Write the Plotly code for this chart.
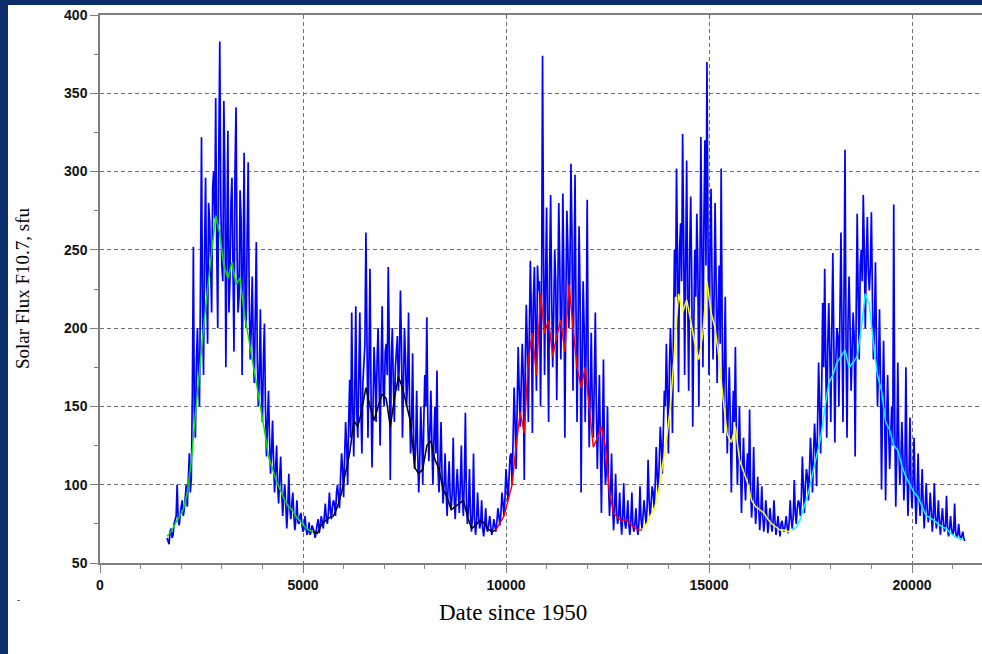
import plotly.graph_objects as go

# ---------------- data ----------------
# daily solar flux samples: main samples every 50 days from day 1650,
# and in-between samples every 50 days from day 1675
flux_start = 1650
flux_step = 50
flux_values = [
    66, 62, 72, 68, 78, 100, 74, 86, 80, 95,
    86, 120, 105, 252, 130, 200, 150, 322, 170, 296,
    190, 269, 210, 300, 347, 200, 383, 240, 345, 175,
    326, 230, 296, 185, 341, 210, 288, 170, 312, 200,
    306, 180, 233, 165, 255, 150, 212, 140, 203, 118,
    160, 107, 141, 95, 125, 88, 118, 80, 100, 72,
    107, 78, 95, 71, 90, 75, 82, 70, 80, 68,
    76, 70, 72, 66, 75, 69, 80, 72, 88, 75,
    95, 78, 90, 80, 100, 85, 120, 92, 140, 100,
    167, 210, 118, 214, 130, 210, 120, 180, 261, 130,
    238, 111, 188, 140, 200, 125, 214, 150, 190, 239,
    103, 200, 140, 190, 160, 224, 130, 200, 150, 210,
    120, 184, 110, 160, 95, 150, 100, 170, 207, 115,
    160, 100, 150, 173, 95, 140, 88, 120, 80, 115,
    85, 130, 78, 110, 82, 125, 80, 146, 75, 110,
    70, 120, 68, 95, 72, 90, 67, 85, 70, 80,
    68, 78, 70, 85, 74, 95, 80, 110, 90, 118,
    100, 162, 110, 188, 137, 190, 103, 215, 140, 243,
    133, 239, 160, 224, 150, 374, 170, 277, 140, 285,
    175, 250, 154, 280, 180, 286, 130, 275, 200, 305,
    160, 298, 140, 265, 95, 230, 140, 282, 124, 197,
    130, 210, 110, 170, 82, 180, 100, 150, 80, 120,
    71, 107, 75, 95, 68, 101, 72, 90, 68, 95,
    70, 85, 68, 99, 72, 90, 75, 116, 80, 99,
    85, 124, 95, 137, 107, 160, 190, 120, 200, 133,
    250, 302, 159, 267, 324, 170, 307, 160, 284, 137,
    250, 273, 150, 322, 175, 320, 370, 170, 289, 180,
    280, 165, 240, 302, 133, 220, 120, 175, 95, 160,
    188, 100, 150, 82, 130, 90, 120, 148, 79, 124,
    75, 105, 71, 99, 70, 90, 69, 85, 70, 90,
    68, 80, 67, 77, 70, 80, 69, 90, 72, 103,
    75, 90, 80, 118, 82, 110, 90, 130, 95, 139,
    99, 178, 120, 216, 238, 130, 216, 140, 248, 127,
    200, 150, 261, 140, 314, 130, 233, 160, 210, 118,
    273, 180, 250, 285, 200, 271, 224, 274, 180, 242,
    150, 212, 97, 192, 90, 170, 110, 150, 279, 86,
    178, 100, 140, 90, 175, 80, 143, 85, 130, 75,
    120, 80, 110, 72, 101, 76, 95, 70, 101, 72,
    90, 68, 85, 70, 93, 67, 80, 68, 88, 66,
    75, 65, 70, 64,
]
flux_mid_start = 1675
flux_mid_values = [
    64, 70, 66, 75, 80, 78, 82, 90, 84, 100,
    110, 95, 160, 140, 180, 170, 230, 210, 250, 230,
    280, 240, 290, 270, 250, 310, 280, 230, 300, 260,
    210, 280, 240, 300, 250, 220, 270, 240, 210, 260,
    220, 200, 190, 210, 180, 170, 160, 180, 150, 140,
    130, 120, 115, 110, 100, 105, 95, 92, 88, 85,
    85, 88, 80, 78, 76, 80, 74, 72, 72, 70,
    68, 74, 70, 72, 78, 74, 76, 80, 78, 82,
    84, 86, 88, 95, 92, 105, 110, 118, 125, 140,
    130, 150, 160, 145, 170, 150, 165, 190, 170, 180,
    160, 150, 170, 180, 165, 175, 160, 185, 170, 190,
    180, 165, 175, 195, 180, 190, 175, 180, 165, 150,
    140, 130, 125, 120, 115, 130, 140, 150, 140, 135,
    125, 130, 120, 110, 115, 105, 100, 95, 100, 92,
    95, 90, 98, 95, 100, 92, 105, 90, 85, 82,
    80, 78, 76, 80, 75, 72, 74, 72, 75, 73,
    72, 74, 76, 80, 82, 88, 92, 100, 105, 120,
    130, 140, 150, 160, 165, 170, 180, 190, 200, 210,
    220, 200, 240, 230, 210, 250, 230, 200, 240, 220,
    210, 230, 220, 240, 210, 235, 220, 250, 240, 260,
    230, 210, 200, 220, 180, 200, 190, 170, 160, 150,
    165, 150, 140, 125, 130, 120, 110, 100, 95, 88,
    85, 82, 80, 78, 80, 76, 78, 75, 77, 74,
    75, 73, 76, 78, 80, 82, 85, 90, 88, 95,
    100, 105, 115, 125, 135, 150, 160, 175, 180, 200,
    220, 240, 250, 230, 260, 240, 220, 250, 230, 200,
    220, 240, 230, 250, 270, 240, 260, 250, 230, 220,
    230, 210, 190, 200, 170, 160, 150, 140, 135, 140,
    130, 125, 115, 110, 105, 110, 100, 95, 92, 90,
    88, 85, 82, 80, 78, 80, 76, 78, 75, 77,
    74, 73, 75, 72, 74, 73, 76, 78, 80, 82,
    85, 88, 92, 98, 100, 105, 110, 115, 120, 125,
    140, 150, 160, 175, 180, 190, 185, 200, 190, 180,
    195, 210, 200, 220, 190, 205, 200, 185, 195, 210,
    220, 240, 230, 250, 245, 235, 240, 220, 200, 190,
    175, 165, 155, 150, 140, 135, 130, 125, 140, 120,
    125, 115, 118, 110, 112, 105, 100, 102, 96, 95,
    92, 90, 88, 86, 84, 82, 83, 80, 80, 78,
    76, 78, 75, 74, 73, 72, 72, 70, 70, 68,
    68, 67, 66,
]

# smoothed flux per solar cycle (every 100 days)
smooth_step = 100
cycle19_start = 1650
cycle19 = [67, 70, 75, 80, 84, 95, 115, 145, 175, 200, 225, 250, 272, 260, 240,
           232, 242, 228, 232, 210, 195, 182, 165, 150, 135, 118, 110, 102, 96,
           90, 86, 83, 79, 76, 73, 71, 70]
cycle20_start = 5250
cycle20 = [70, 69, 74, 77, 79, 80, 86, 95, 108, 120, 141, 137, 148, 162, 150,
           141, 150, 158, 155, 137, 155, 169, 162, 150, 140, 111, 107, 110, 125,
           128, 116, 110, 97, 92, 84, 86, 88, 90, 80, 72, 74, 77, 76, 72, 70, 71]
cycle21_start = 9750
cycle21 = [71, 76, 80, 90, 100, 125, 146, 133, 180, 197, 170, 222, 197, 205, 182,
           195, 205, 185, 228, 201, 175, 162, 175, 150, 124, 130, 137, 124, 95,
           82, 79, 77, 78, 75, 73, 71, 71]
cycle22_start = 13350
cycle22 = [71, 74, 80, 84, 95, 112, 128, 150, 186, 222, 210, 218, 205, 190, 180,
           197, 230, 210, 200, 180, 154, 132, 127, 137, 116, 108, 101, 90, 86,
           84, 82, 78, 75, 73, 71, 71, 70, 71]
cycle23_start = 17050
cycle23 = [71, 73, 78, 86, 95, 107, 118, 130, 148, 165, 170, 178, 182, 186, 175,
           178, 182, 200, 222, 215, 190, 170, 160, 140, 135, 125, 122, 112, 105,
           100, 95, 92, 86, 80, 79, 77, 75, 73, 72, 69, 67, 66, 65]

cycles = [
    (cycle19_start, cycle19, "#00e600"),
    (cycle20_start, cycle20, "#000000"),
    (cycle21_start, cycle21, "#ff0000"),
    (cycle22_start, cycle22, "#ffff00"),
    (cycle23_start, cycle23, "#00ffff"),
]

x_ticks = [0, 5000, 10000, 15000, 20000]
y_ticks = [50, 100, 150, 200, 250, 300, 350, 400]

# ---------------- figure ----------------
fig = go.Figure()

samples = [(flux_start + flux_step * i, v) for i, v in enumerate(flux_values)]
samples += [(flux_mid_start + flux_step * i, v) for i, v in enumerate(flux_mid_values)]
samples.sort()
flux_days = [d for d, _ in samples]
flux_all = [v for _, v in samples]

fig.add_trace(go.Scatter(x=flux_days, y=flux_all, mode="lines",
                         line=dict(color="#0000ff", width=1.7),
                         showlegend=False, hoverinfo="skip"))

for start, vals, col in cycles:
    days = [start + smooth_step * i for i in range(len(vals))]
    fig.add_trace(go.Scatter(x=days, y=vals, mode="lines",
                             line=dict(color=col, width=1.5),
                             showlegend=False, hoverinfo="skip"))

axis_common = dict(
    showline=True, linecolor="#7f7f7f", linewidth=1.5,
    ticks="outside", tickcolor="#7f7f7f", ticklen=8, tickwidth=1,
    showgrid=True, gridcolor="#707070", gridwidth=1, griddash="4px,3px",
    zeroline=False,
    tickfont=dict(family="Liberation Sans, Arial", size=14, color="#111111",
                  weight="bold"),
)

fig.update_xaxes(range=[0, 21724], tickvals=x_ticks,
                 ticktext=[str(v) for v in x_ticks],
                 minor=dict(dtick=1000, ticklen=4, tickcolor="#7f7f7f",
                            ticks="outside", showgrid=False),
                 mirror=True, **axis_common)
fig.update_yaxes(range=[50, 400], tickvals=y_ticks,
                 ticktext=[str(v) for v in y_ticks],
                 minor=dict(dtick=25, ticklen=4, tickcolor="#7f7f7f",
                            ticks="outside", showgrid=False),
                 **axis_common)

navy = "#0c2d6b"
fig.update_layout(
    width=982, height=654,
    margin=dict(l=100, r=0, t=15, b=91),
    paper_bgcolor="white", plot_bgcolor="white",
    shapes=[
        # left navy frame strip
        dict(type="rect", xref="paper", yref="paper", xsizemode="pixel",
             xanchor=0, x0=-100, x1=-92, y0=-0.3, y1=1.2,
             fillcolor=navy, line_width=0, layer="above"),
        # top navy frame strip
        dict(type="rect", xref="paper", yref="paper", ysizemode="pixel",
             yanchor=1, y0=15, y1=10, x0=-0.2, x1=1.1,
             fillcolor=navy, line_width=0, layer="above"),
    ],
    annotations=[
        dict(text="Date since 1950", xref="paper", yref="paper",
             x=(513 - 100) / 882, y=(563 - 612) / 548, showarrow=False,
             xanchor="center", yanchor="middle",
             font=dict(family="Liberation Serif, Times New Roman", size=23,
                       color="black")),
        dict(text="Solar Flux F10.7, sfu", xref="paper", yref="paper",
             x=(22 - 100) / 882, y=0.5, showarrow=False, textangle=-90,
             xanchor="center", yanchor="middle",
             font=dict(family="Liberation Serif, Times New Roman", size=19,
                       color="black")),
        dict(text="-", xref="paper", yref="paper",
             x=(15 - 100) / 882, y=(563 - 607) / 548, showarrow=False,
             font=dict(family="Liberation Sans", size=9, color="black")),
    ],
)

fig.write_html("out.html",
               config={"displayModeBar": False},
               post_script="document.body.style.margin='0';"
                           "document.body.style.overflow='hidden';")
